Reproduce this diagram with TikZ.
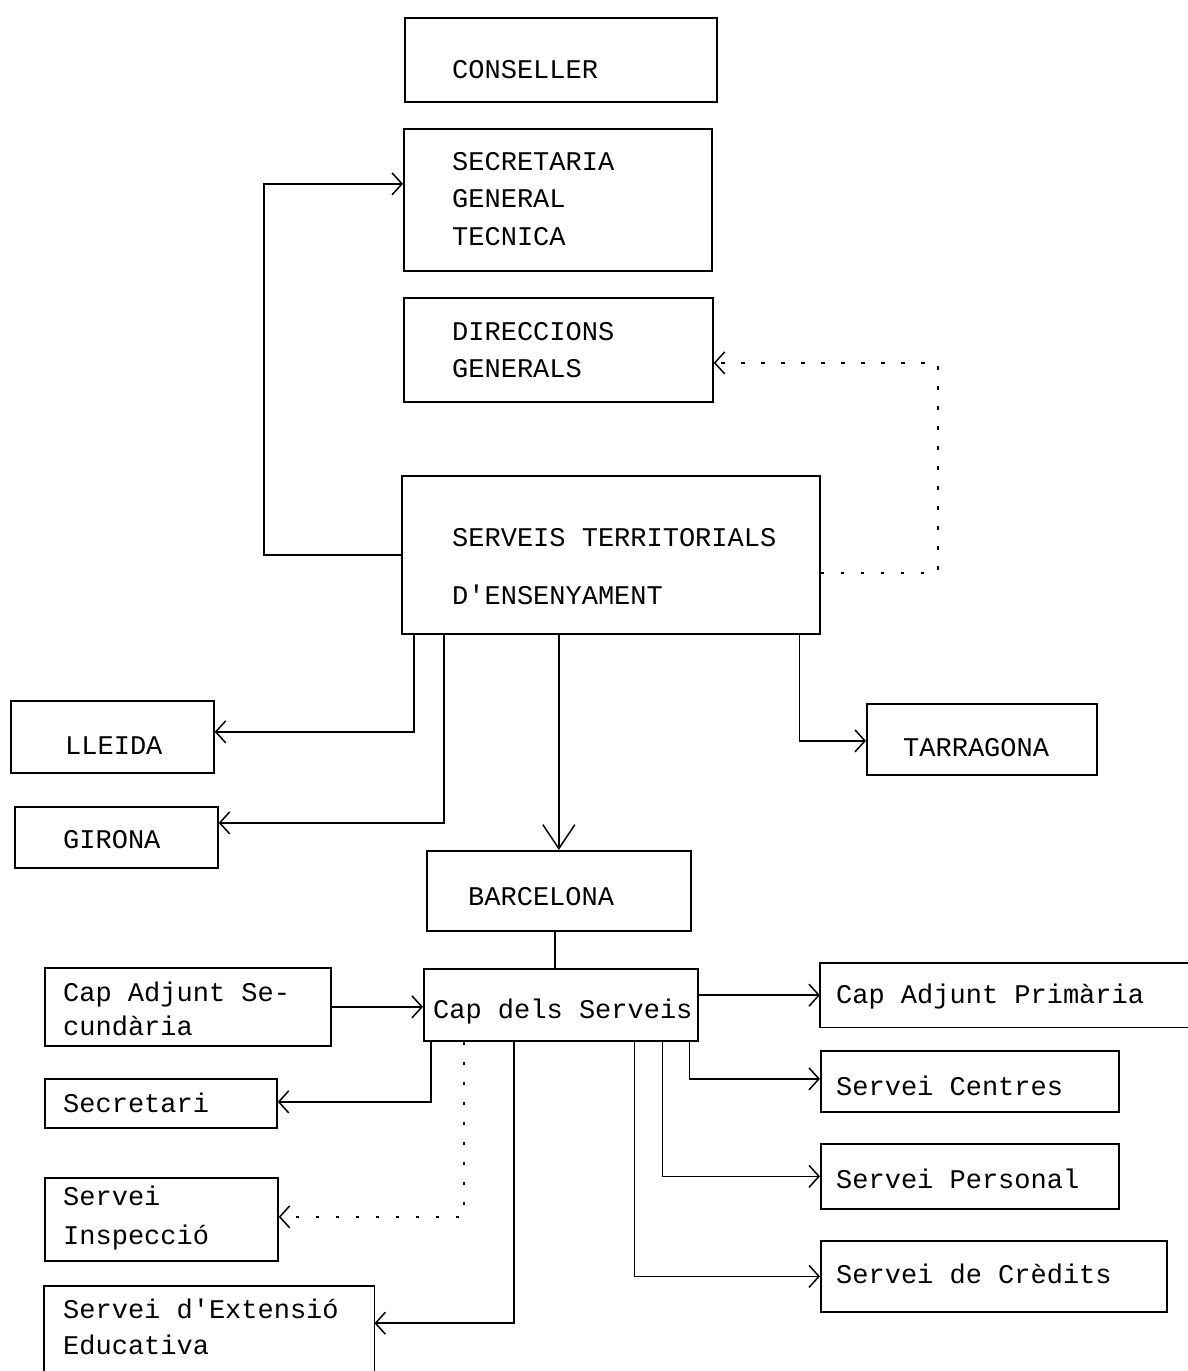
\documentclass[tikz,border=0pt]{standalone}
\usepackage{fontspec}
\setmainfont{Liberation Mono}
\usetikzlibrary{arrows.meta,calc}
\newcommand{\tsz}[1]{\fontsize{27}{#1}\selectfont\fontdimen2\font=16.2pt\fontdimen3\font=0pt\fontdimen4\font=0pt\relax}
\begin{document}
\begin{tikzpicture}[x=1pt,y=-1pt,
  box/.style={draw, line width=1.7pt, inner sep=0pt, anchor=north west},
  nobox/.style={inner sep=0pt, anchor=north west},
  txt/.style={anchor=base west, inner sep=0pt, text width=440pt, font=\tsz{#1},
    execute at begin node={\spaceskip=16.2pt\xspaceskip=16.2pt\relax}},
  txt/.default=38,
  conn/.style={line width=1.5pt},
  arr/.style={line width=1.5pt, -{Straight Barb[length=10pt,width=22pt]}},
  bigarr/.style={line width=1.5pt, -{Straight Barb[length=24pt,width=32pt]}},
  dotarr/.style={line width=2pt, dash pattern=on 3.5pt off 16.5pt, -{Straight Barb[length=10pt,width=22pt,line width=1.5pt]}}
]
\useasboundingbox (0,0) rectangle (1188,1371);
\fill[white] (0,0) rectangle (1188,1371);

% boxes
\node[box, minimum width=312pt, minimum height=84pt]  (cons) at (404,17) {};
\node[box, minimum width=308pt, minimum height=142pt] (sec)  at (403,128) {};
\node[box, minimum width=309pt, minimum height=104pt] (dir)  at (403,297) {};
\node[box, minimum width=418pt, minimum height=158pt] (st)   at (401,475) {};
\node[box, minimum width=203pt, minimum height=72pt]  (lle)  at (10,700) {};
\node[box, minimum width=203pt, minimum height=61pt]  (gir)  at (14,806) {};
\node[box, minimum width=230pt, minimum height=71pt]  (tar)  at (866,703) {};
\node[box, minimum width=264pt, minimum height=80pt]  (bar)  at (426,850) {};
\node[box, minimum width=274pt, minimum height=72pt]  (cap)  at (423,968) {};
\node[box, minimum width=286pt, minimum height=78pt]  (cas)  at (44,967) {};
\node[nobox, minimum width=368pt, minimum height=64pt] (cpr) at (820,963) {};
\draw[line width=1.7pt] (cpr.north east) -- (cpr.north west) -- (cpr.south west) -- (cpr.south east);
\node[box, minimum width=298pt, minimum height=61pt]  (cen)  at (820,1050) {};
\node[box, minimum width=298pt, minimum height=65pt]  (per)  at (820,1143) {};
\node[box, minimum width=346pt, minimum height=71pt]  (cre)  at (820,1240) {};
\node[box, minimum width=232pt, minimum height=49pt]  (secr) at (44,1078) {};
\node[box, minimum width=233pt, minimum height=83pt]  (ins)  at (44,1177) {};
\node[nobox, minimum width=330pt, minimum height=85pt] (ext) at (44,1286) {};
\draw[line width=1.7pt] (ext.south west) -- (ext.north west) -- (ext.north east) -- (ext.south east);

% texts
\node[txt] (tcons) at (452,78) {CONSELLER};
\node[txt=37.5] (tsec) at (452,170) {SECRETARIA\\GENERAL\\TECNICA};
\node[txt=37] (tdir) at (452,340) {DIRECCIONS\\GENERALS};
\node[txt=58] (tst) at (452,546) {SERVEIS TERRITORIALS\\D\textquotesingle ENSENYAMENT};
\node[txt] (tlle) at (65,754) {LLEIDA};
\node[txt] (tgir) at (63,848) {GIRONA};
\node[txt] (ttar) at (903,756) {TARRAGONA};
\node[txt] (tbar) at (468,905) {BARCELONA};
\node[txt] (tcap) at (433,1018) {Cap dels Serveis};
\node[txt=34] (tcas) at (63,1001) {Cap Adjunt Se-\\cundària};
\node[txt] (tcpr) at (836,1003) {Cap Adjunt Primària};
\node[txt] (tcen) at (836,1095) {Servei Centres};
\node[txt] (tper) at (836,1188) {Servei Personal};
\node[txt] (tcre) at (836,1283) {Servei de Crèdits};
\node[txt] (tsecr) at (63,1112) {Secretari};
\node[txt=39] (tins) at (63,1205) {Servei\\Inspecció};
\node[txt=36] (text) at (63,1318) {Servei d\textquotesingle Extensió\\Educativa};

% connectors
\draw[arr] (st.west) -| ([xshift=-139pt,yshift=16pt]sec.west) -- ([yshift=16pt]sec.west);
\draw[dotarr] ([yshift=-18pt]st.east) -| ([xshift=224pt,yshift=-13pt]dir.east) -- ([yshift=-13pt]dir.east);
\draw[arr] ([xshift=13pt]st.south west) |- ([yshift=5pt]lle.east);
\draw[arr] ([xshift=43pt]st.south west) |- ([yshift=14.5pt]gir.east);
\draw[bigarr] (st.south -| bar.north) -- (bar.north);
\draw[arr] ([xshift=-21pt]st.south east) |- ([yshift=-1.5pt]tar.west);
\draw[conn] ([xshift=-4pt]bar.south) -- ([xshift=-4pt]bar.south |- cap.north);
\draw[arr] (cas.east) -- (cas.east -| cap.west);
\draw[arr] (cpr.west -| cap.east) -- (cpr.west);
\draw[arr] ([xshift=-9pt]cap.south east) |- ([yshift=2.5pt]cen.west);
\draw[arr] ([xshift=-36pt]cap.south east) |- (per.west);
\draw[arr] ([xshift=-64pt]cap.south east) |- (cre.west);
\draw[arr] ([xshift=8pt]cap.south west) |- ([yshift=1.5pt]secr.east);
\draw[dotarr] ([xshift=41pt]cap.south west) |- ([yshift=2.5pt]ins.east);
\draw[arr] ([xshift=91pt]cap.south west) |- ([yshift=5.5pt]ext.east);
\end{tikzpicture}
\end{document}
